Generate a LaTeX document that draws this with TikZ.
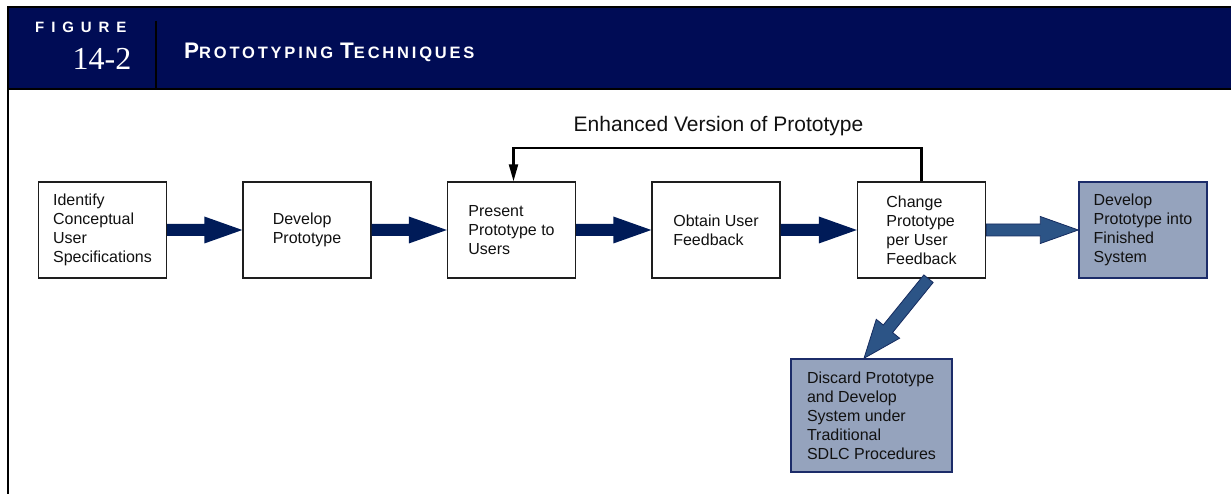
\documentclass[tikz,border=0pt]{standalone}
\usepackage{fontspec}
\setmainfont{Liberation Sans}
\newfontfamily\headserif{Liberation Serif}
\newfontfamily\spacedsans[LetterSpace=46]{Liberation Sans}
\newfontfamily\titlesans[LetterSpace=17]{Liberation Sans}
\usetikzlibrary{arrows.meta,calc}
\definecolor{navy}{RGB}{0,12,85}
\definecolor{arrowdark}{RGB}{0,27,88}
\definecolor{arrowmid}{RGB}{44,84,134}
\definecolor{arrowedge}{RGB}{22,44,96}
\definecolor{shade}{RGB}{149,163,189}
\definecolor{shadeedge}{RGB}{28,44,105}
\definecolor{boxedge}{RGB}{30,30,30}
\definecolor{txt}{RGB}{17,17,17}
\newcommand\blockarrow[4]{%
  \coordinate (ba-h) at ($(#3)!38pt!(#2)$);
  \path[#1] ($(#2)!6pt!90:(#3)$) -- ($(ba-h)!6pt!-90:(#2)$) -- ($(ba-h)!#4!-90:(#2)$) -- (#3)
    -- ($(ba-h)!#4!90:(#2)$) -- ($(ba-h)!6pt!90:(#2)$) -- ($(#2)!6pt!-90:(#3)$) -- cycle;
}
\tikzset{
  stepbox/.style={draw=boxedge, line width=1.4pt, fill=white, minimum width=128pt, minimum height=96pt,
    align=left, text=txt, font=\fontsize{16}{19}\selectfont, inner sep=0pt},
  endbox/.style={stepbox, fill=shade, draw=shadeedge},
  darkarrow/.style={fill=arrowdark},
  midarrow/.style={fill=arrowmid, draw=arrowedge, line width=0.8pt, line join=miter},
  fbline/.style={draw=black, line width=2.2pt, -{Triangle[width=9pt,length=17pt]}},
  headtext/.style={inner sep=0pt, text=white}
}
\begin{document}
\begin{tikzpicture}[x=1pt,y=-1pt]
\useasboundingbox (0,0) rectangle (1231,494);
% header
\draw[line width=2.5pt, fill=navy] (8,7) rectangle (1236,89);
\draw[line width=2.5pt] (8,88) -- (8,500);
\draw[line width=2.3pt] (156,21) -- (156,89);
\node[headtext, anchor=base west] (fig) at (35,32.3) {\fontsize{15}{15}\spacedsans\bfseries FIGURE};
\node[headtext, anchor=base east] (num) at (131.5,70) {\fontsize{32}{32}\headserif 14-2};
\node[headtext, anchor=base west] (title) at (184,59) {\titlesans\bfseries{\fontsize{22.5}{22}\selectfont P}{\fontsize{16.5}{16}\selectfont ROTOTYPING}\hspace{7pt}{\fontsize{22.5}{22}\selectfont T}{\fontsize{16.5}{16}\selectfont ECHNIQUES}};
% boxes
\node[stepbox] (b1) at (102.5,230) {Identify\\Conceptual\\User\\Specifications};
\node[stepbox] (b2) at (307,230) {Develop\\Prototype};
\node[stepbox] (b3) at (511.5,230) {Present\\Prototype to\\Users};
\node[stepbox] (b4) at (716,230) {Obtain User\\Feedback};
\node[stepbox] (b5) at (921.5,230) {Change\\Prototype\\per User\\Feedback};
\node[endbox] (b6) at (1143,230) {Develop\\Prototype into\\Finished\\System};
\node[endbox, minimum width=161pt, minimum height=113pt] (b7) at (871.5,415.5) {Discard Prototype\\and Develop\\System under\\Traditional\\SDLC Procedures};
% block arrows
\blockarrow{darkarrow}{b1.east}{b2.west}{13.5pt}
\blockarrow{darkarrow}{b2.east}{b3.west}{13.5pt}
\blockarrow{darkarrow}{b3.east}{b4.west}{13.5pt}
\blockarrow{darkarrow}{b4.east}{b5.west}{13.5pt}
\blockarrow{midarrow}{b5.east}{b6.west}{13.5pt}
\coordinate (dstart) at ([xshift=7pt]b5.south);
\coordinate (dtip) at ([xshift=-7.5pt]b7.north);
\blockarrow{midarrow}{dstart}{dtip}{15pt}
% feedback loop
\draw[fbline] (b5.north) -- ++(0,-33) -| ([xshift=2pt]b3.north);
\node[inner sep=0pt, text=txt, font=\fontsize{21}{21}\selectfont] (fbl) at (718.5,126) {Enhanced Version of Prototype};
\end{tikzpicture}
\end{document}
